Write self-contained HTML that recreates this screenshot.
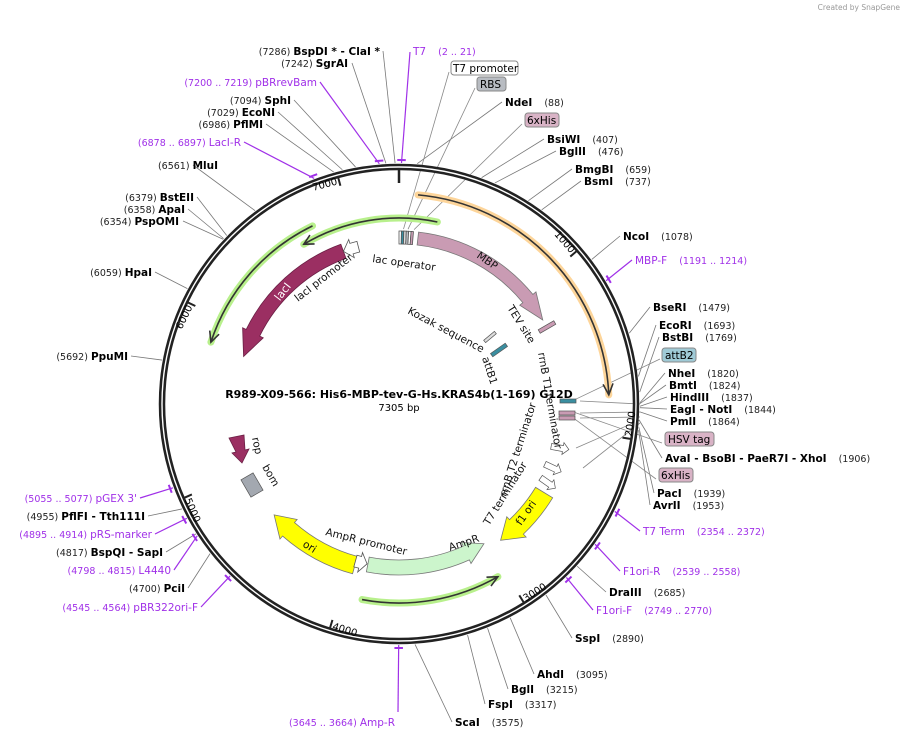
<!DOCTYPE html>
<html><head><meta charset="utf-8"><style>
html,body{margin:0;padding:0;background:#fff}
svg{display:block;font-family:"DejaVu Sans","Liberation Sans",sans-serif}
.n{font-size:9.5px;fill:#222}
.b{font-size:10.5px;font-weight:bold;fill:#000}
.p{font-size:10.5px;fill:#a030e8}
.pn{font-size:9.5px;fill:#a030e8}
.f{font-size:10.5px;fill:#111}
</style></head><body>
<svg id="s" width="907" height="739" viewBox="0 0 907 739" xmlns="http://www.w3.org/2000/svg" xml:space="preserve">
<text x="900" y="10" text-anchor="end" font-size="7.5" fill="#999">Created by SnapGene</text>
<g id="lines"></g>
<g id="feat"></g>
<circle cx="399" cy="404" r="237" fill="none" stroke="#222" stroke-width="6.5"/>
<circle cx="399" cy="404" r="237" fill="none" stroke="#fff" stroke-width="1.4"/>
<g id="top"></g>
<text x="399" y="398" text-anchor="middle" font-size="11" font-weight="bold">R989-X09-566: His6-MBP-tev-G-Hs.KRAS4b(1-169) G12D</text>
<text x="399" y="411" text-anchor="middle" font-size="10">7305 bp</text>

<g text-anchor="end">
<text x="380" y="55"><tspan class="n">(7286)  </tspan><tspan class="b">BspDI *  - ClaI *</tspan></text>
<text x="348" y="67"><tspan class="n">(7242)  </tspan><tspan class="b">SgrAI</tspan></text>
<text x="317" y="86"><tspan class="pn">(7200 .. 7219)  </tspan><tspan class="p">pBRrevBam</tspan></text>
<text x="291" y="104"><tspan class="n">(7094)  </tspan><tspan class="b">SphI</tspan></text>
<text x="275" y="116"><tspan class="n">(7029)  </tspan><tspan class="b">EcoNI</tspan></text>
<text x="263" y="128"><tspan class="n">(6986)  </tspan><tspan class="b">PflMI</tspan></text>
<text x="241" y="146"><tspan class="pn">(6878 .. 6897)  </tspan><tspan class="p">LacI-R</tspan></text>
<text x="218" y="169"><tspan class="n">(6561)  </tspan><tspan class="b">MluI</tspan></text>
<text x="194" y="201"><tspan class="n">(6379)  </tspan><tspan class="b">BstEII</tspan></text>
<text x="185" y="213"><tspan class="n">(6358)  </tspan><tspan class="b">ApaI</tspan></text>
<text x="179" y="225"><tspan class="n">(6354)  </tspan><tspan class="b">PspOMI</tspan></text>
<text x="152" y="276"><tspan class="n">(6059)  </tspan><tspan class="b">HpaI</tspan></text>
<text x="128" y="360"><tspan class="n">(5692)  </tspan><tspan class="b">PpuMI</tspan></text>
<text x="137" y="502"><tspan class="pn">(5055 .. 5077)  </tspan><tspan class="p">pGEX 3'</tspan></text>
<text x="145" y="520"><tspan class="n">(4955)  </tspan><tspan class="b">PflFI  - Tth111I</tspan></text>
<text x="152" y="538"><tspan class="pn">(4895 .. 4914)  </tspan><tspan class="p">pRS-marker</tspan></text>
<text x="163" y="556"><tspan class="n">(4817)  </tspan><tspan class="b">BspQI  - SapI</tspan></text>
<text x="171" y="574"><tspan class="pn">(4798 .. 4815)  </tspan><tspan class="p">L4440</tspan></text>
<text x="185" y="592"><tspan class="n">(4700)  </tspan><tspan class="b">PciI</tspan></text>
<text x="198" y="611"><tspan class="pn">(4545 .. 4564)  </tspan><tspan class="p">pBR322ori-F</tspan></text>
<text x="395" y="726"><tspan class="pn">(3645 .. 3664)  </tspan><tspan class="p">Amp-R</tspan></text>
</g>
<g>
<text x="413" y="55"><tspan class="p">T7</tspan><tspan class="pn" dx="12">(2 .. 21)</tspan></text>
<text x="505" y="106"><tspan class="b">NdeI</tspan><tspan class="n" dx="12">(88)</tspan></text>
<text x="547" y="143"><tspan class="b">BsiWI</tspan><tspan class="n" dx="12">(407)</tspan></text>
<text x="559" y="155"><tspan class="b">BglII</tspan><tspan class="n" dx="12">(476)</tspan></text>
<text x="575" y="173"><tspan class="b">BmgBI</tspan><tspan class="n" dx="12">(659)</tspan></text>
<text x="584" y="185"><tspan class="b">BsmI</tspan><tspan class="n" dx="12">(737)</tspan></text>
<text x="623" y="240"><tspan class="b">NcoI</tspan><tspan class="n" dx="12">(1078)</tspan></text>
<text x="635" y="264"><tspan class="p">MBP-F</tspan><tspan class="pn" dx="12">(1191 .. 1214)</tspan></text>
<text x="653" y="311"><tspan class="b">BseRI</tspan><tspan class="n" dx="12">(1479)</tspan></text>
<text x="659" y="329"><tspan class="b">EcoRI</tspan><tspan class="n" dx="12">(1693)</tspan></text>
<text x="662" y="341"><tspan class="b">BstBI</tspan><tspan class="n" dx="12">(1769)</tspan></text>
<text x="668" y="377"><tspan class="b">NheI</tspan><tspan class="n" dx="12">(1820)</tspan></text>
<text x="669" y="389"><tspan class="b">BmtI</tspan><tspan class="n" dx="12">(1824)</tspan></text>
<text x="670" y="401"><tspan class="b">HindIII</tspan><tspan class="n" dx="12">(1837)</tspan></text>
<text x="670" y="413"><tspan class="b">EagI  - NotI</tspan><tspan class="n" dx="12">(1844)</tspan></text>
<text x="670" y="425"><tspan class="b">PmlI</tspan><tspan class="n" dx="12">(1864)</tspan></text>
<text x="665" y="462"><tspan class="b">AvaI   - BsoBI   - PaeR7I   - XhoI</tspan><tspan class="n" dx="12">(1906)</tspan></text>
<text x="657" y="497"><tspan class="b">PacI</tspan><tspan class="n" dx="12">(1939)</tspan></text>
<text x="653" y="509"><tspan class="b">AvrII</tspan><tspan class="n" dx="12">(1953)</tspan></text>
<text x="643" y="535"><tspan class="p">T7 Term</tspan><tspan class="pn" dx="12">(2354 .. 2372)</tspan></text>
<text x="623" y="575"><tspan class="p">F1ori-R</tspan><tspan class="pn" dx="12">(2539 .. 2558)</tspan></text>
<text x="609" y="596"><tspan class="b">DraIII</tspan><tspan class="n" dx="12">(2685)</tspan></text>
<text x="596" y="614"><tspan class="p">F1ori-F</tspan><tspan class="pn" dx="12">(2749 .. 2770)</tspan></text>
<text x="575" y="642"><tspan class="b">SspI</tspan><tspan class="n" dx="12">(2890)</tspan></text>
<text x="537" y="678"><tspan class="b">AhdI</tspan><tspan class="n" dx="12">(3095)</tspan></text>
<text x="511" y="693"><tspan class="b">BglI</tspan><tspan class="n" dx="12">(3215)</tspan></text>
<text x="488" y="708"><tspan class="b">FspI</tspan><tspan class="n" dx="12">(3317)</tspan></text>
<text x="455" y="726"><tspan class="b">ScaI</tspan><tspan class="n" dx="12">(3575)</tspan></text>
</g>
<g font-size="10.5">
<rect x="451" y="61" width="67" height="14" rx="3" fill="#fff" stroke="#888"/><text x="453" y="72">T7 promoter</text>
<rect x="477" y="77" width="29" height="14" rx="3" fill="#b8bcc2" stroke="#888"/><text x="480" y="88">RBS</text>
<rect x="525" y="113" width="34" height="14" rx="3" fill="#d9b3c6" stroke="#888"/><text x="527" y="124">6xHis</text>
<rect x="662" y="348" width="34" height="14" rx="3" fill="#9fcad6" stroke="#888"/><text x="665" y="359">attB2</text>
<rect x="665" y="432" width="49" height="14" rx="3" fill="#d9b3c6" stroke="#888"/><text x="668" y="443">HSV tag</text>
<rect x="659" y="468" width="34" height="14" rx="3" fill="#d9b3c6" stroke="#888"/><text x="661" y="479">6xHis</text>
</g>
<g class="f">
<text transform="translate(372,262) rotate(8)">lac operator</text>
<text transform="translate(476,257) rotate(35)">MBP</text>
<text transform="translate(298,302) rotate(-38)">lacI promoter</text>
<text transform="translate(507,308) rotate(58)">TEV site</text>
<text transform="translate(407,313) rotate(28)">Kozak sequence</text>
<text transform="translate(482,358) rotate(72)">attB1</text>
<text transform="translate(538,353) rotate(80)">rrnB T1 terminator</text>
<text transform="translate(506,497) rotate(-72)">rrnB T2 terminator</text>
<text transform="translate(489,526) rotate(-58)">T7 terminator</text>
<text transform="translate(521,526) rotate(-55)">f1 ori</text>
<text transform="translate(450,551) rotate(-18)">AmpR</text>
<text transform="translate(325,535) rotate(14)">AmpR promoter</text>
<text transform="translate(302,546) rotate(32)">ori</text>
<text transform="translate(252,438) rotate(78)">rop</text>
<text transform="translate(262,467) rotate(60)">bom</text>
</g>
<g id="ov"></g>
<script>
const cx=399,cy=404,N=7305,NS="http://www.w3.org/2000/svg";
const D=Math.PI/180;
function pa(a,r){return [cx+r*Math.sin(a*D),cy-r*Math.cos(a*D)];}
function pb(bp,r){return pa(bp/N*360,r);}
function el(p,t,at){const e=document.createElementNS(NS,t);for(const k in at)e.setAttribute(k,at[k]);document.getElementById(p).appendChild(e);return e;}
function arc(a1,a2,r){const p1=pa(a1,r),p2=pa(a2,r);const sw=a2>a1?1:0;const lg=Math.abs(a2-a1)>180?1:0;return `M${p1[0]} ${p1[1]} A${r} ${r} 0 ${lg} ${sw} ${p2[0]} ${p2[1]}`;}
const L=[[88,502,102],[407,544,139],[476,556,151],[659,572,169],[737,581,181],[1078,620,236],[1202,632,260,1],[1479,650,307],[1693,656,325],[1769,659,337],[1820,665,373],[1824,666,385],[1837,667,397],[1844,667,409],[1864,667,421],[1906,662,458],[1939,654,493],[1953,650,505],[2363,640,531,1],[2548,620,571,1],[2685,606,592],[2760,593,610,1],[2890,572,638],[3095,534,674],[3215,508,689],[3317,485,704],[3575,452,722],[3654,398,712,1],
[4555,201,607,1],[4700,188,588],[4806,174,570,1],[4817,166,552],[4904,155,534,1],[4955,148,516],[5066,140,498,1],[5692,131,356],[6059,155,272],[6354,183,221],[6358,188,209],[6379,197,197],[6561,193,165],[6887,244,142,1],[6986,266,124],[7029,278,112],[7094,294,100],[7210,320,82,1],[7242,352,63],[7286,383,51],[12,410,52,1]];
for(const l of L){const p=pb(l[0],241);el("lines","line",{x1:p[0],y1:p[1],x2:l[1],y2:l[2],stroke:l[3]?"#a030e8":"#777","stroke-width":l[3]?1.2:0.8});
 if(l[3]){const a=l[0]/N*360;el("top","path",{d:arc(a-1,a+1,244),stroke:"#a030e8","stroke-width":2,fill:"none"});}}
const F=[[30,175,449,72],[60,175,475,88],[100,175,522,124],[1800,175,660,359],[1880,175,662,443],[1920,175,656,479]];
for(const f of F){const p=pb(f[0],f[1]);el("lines","line",{x1:p[0],y1:p[1],x2:f[2],y2:f[3],stroke:"#888","stroke-width":0.8});}
[[580,401,640,404],[580,413,640,412],[580,418,640,417],[576,448,640,420],[583,468,640,423]].forEach(a=>el("lines","line",{x1:a[0],y1:a[1],x2:a[2],y2:a[3],stroke:"#888","stroke-width":0.8}));
for(let k=1;k<=7;k++){const a=k*1000/N*360;const p1=pb(k*1000,234),p2=pb(k*1000,226);el("top","line",{x1:p1[0],y1:p1[1],x2:p2[0],y2:p2[1],stroke:"#222","stroke-width":2});
 const bottom=a>90&&a<270;const q=pa(a,bottom?226:228);const t=el("top","text",{"font-size":"10",transform:`translate(${q[0]},${q[1]}) rotate(${bottom?a-180:a})`,"text-anchor":bottom?"start":"end",dy:bottom?"9":"0",dx:bottom?"2":"-2"});t.textContent=k*1000;}
el("top","line",{x1:399,y1:170,x2:399,y2:183,stroke:"#222","stroke-width":2.5});
function glowArc(a1,a2,r,glow){el("feat","path",{d:arc(a1,a2,r),stroke:glow,"stroke-width":7,fill:"none","stroke-linecap":"round"});
 el("feat","path",{d:arc(a1,a2,r),stroke:"#333","stroke-width":1.6,fill:"none"});
 const s=a2>a1?1:-1;const t=pa(a2,r),b1=pa(a2-s*3,r-5),b2=pa(a2-s*3,r+5);el("feat","path",{d:`M${b1} L${t} L${b2}`,stroke:"#333","stroke-width":1.6,fill:"none"});}
glowArc(5.2,87.5,210,"#fdd59a");
glowArc(11.9,-30.8,186,"#b8f08c");
glowArc(-25.9,-71.8,198,"#b8f08c");
glowArc(190.7,150.2,199,"#b8f08c");
function feat(a1,a2,ri,ro,h,fill,stroke){const s=a2>a1?1:-1;const ab=a2-s*h;const rm=(ri+ro)/2;
 const o1=pa(a1,ro),o2=pa(ab,ro),i1=pa(a1,ri),i2=pa(ab,ri),ho=pa(ab,ro+4),hi=pa(ab,ri-4),t=pa(a2,rm);
 const sw=s>0?1:0,lg=Math.abs(ab-a1)>180?1:0;
 const d=h>0?`M${o1} A${ro} ${ro} 0 ${lg} ${sw} ${o2} L${ho} L${t} L${hi} L${i2} A${ri} ${ri} 0 ${lg} ${1-sw} ${i1} Z`:`M${o1} A${ro} ${ro} 0 ${lg} ${sw} ${o2} L${i2} A${ri} ${ri} 0 ${lg} ${1-sw} ${i1} Z`;
 el("feat","path",{d:d,fill:fill,stroke:stroke,"stroke-width":0.8});}
feat(6.5,59.7,160,173,9,"#c99bb3","#777");
feat(-20,-73,155,170,9,"#9b2f62","#6a1f44");
feat(-14.5,-20,157,168,3,"#fff","#555");
feat(195.3,228.4,158,176,7,"#ffff00","#777");
feat(191,148.7,156,171,7,"#ccf5cc","#777");
feat(195.5,191.3,157,169,2.5,"#fff","#555");
feat(121.4,143.3,160,180,7,"#ffff00","#777");
[[0,"#fff"],[0.8,"#3a8ea0"],[1.6,"#ddd"],[2.4,"#b8bcc2"],[3.2,"#fff"],[4.0,"#c99bb3"]].forEach(b=>feat(b[0],b[0]+0.8,160,173,0,b[1],"#555"));
function sm(x,y,w,h,r,fill){el("feat","rect",{x:x-w/2,y:y-h/2,width:w,height:h,fill:fill,stroke:"#555","stroke-width":0.7,transform:`rotate(${r} ${x} ${y})`});}
sm(547,327,18,4,-30,"#c99bb3");sm(490,337,14,3,-40,"#ddd");sm(499,350,18,4,-35,"#3a8ea0");
sm(568,401,16,4,0,"#3a8ea0");sm(567,413,16,4,0,"#c99bb3");sm(567,418,16,4,0,"#c99bb3");
sm(252,485,14,20,-30,"#a3a8b0");
el("feat","path",{d:"M229 438 L244 435 L245 450 L249 449 L242 463 L232 453 L236 452 Z",fill:"#9b2f62",stroke:"#6a1f44","stroke-width":0.8});
[[560,448,10],[553,468,25],[548,483,35]].forEach(a=>el("feat","path",{d:"M-9 -3 L3 -3 L3 -6 L9 0 L3 6 L3 3 L-9 3 Z",fill:"#fff",stroke:"#555","stroke-width":0.7,transform:`translate(${a[0]},${a[1]}) rotate(${a[2]})`}));
const lp=pa(-46,162);
const lt=el("ov","text",{transform:`translate(${lp[0]},${lp[1]}) rotate(-52)`,"font-size":"11",fill:"#fff","text-anchor":"middle",dy:"4"});lt.textContent="lacI";
</script>
</svg>
</body></html>
